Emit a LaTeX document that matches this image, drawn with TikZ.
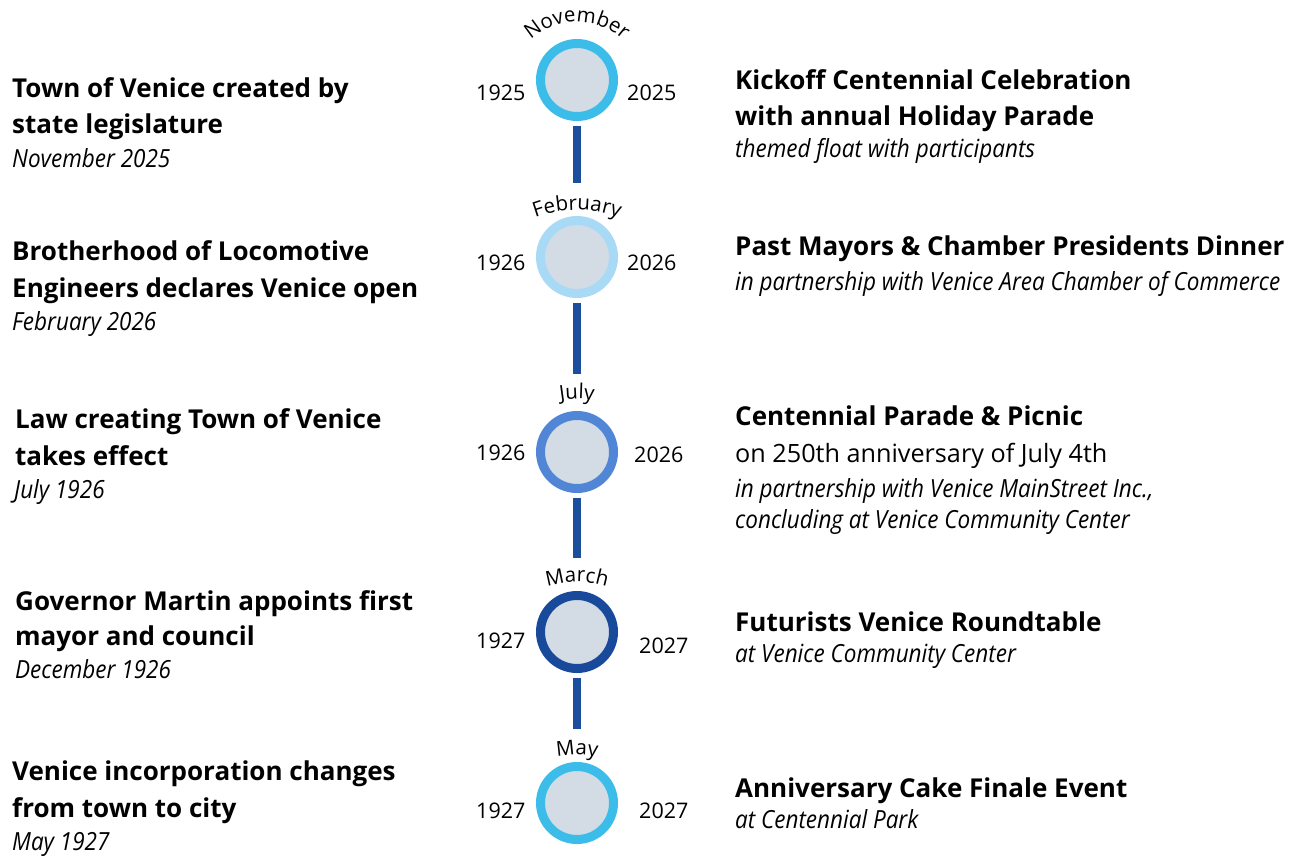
\documentclass[tikz,border=0pt]{standalone}
\usepackage{fontspec}
\setmainfont{Open Sans}
\newfontfamily\condfont{Open Sans}[FakeStretch=0.9]
\usetikzlibrary{decorations.text}

\definecolor{cyanring}{HTML}{3BBCE9}
\definecolor{paleblue}{HTML}{A9DAF5}
\definecolor{midblue}{HTML}{5086D5}
\definecolor{deepblue}{HTML}{18499A}
\definecolor{stemblue}{HTML}{1C4E9E}
\definecolor{dotfill}{HTML}{D3DCE4}

\tikzset{
  head/.style={anchor=base west, inner sep=0pt, font=\bfseries\fontsize{26}{32}\selectfont},
  note/.style={anchor=base west, inner sep=0pt, font=\condfont\itshape\fontsize{25}{30}\selectfont},
  plain/.style={anchor=base west, inner sep=0pt, font=\fontsize{25.2}{30}\selectfont},
  yr/.style={anchor=base west, inner sep=0pt, font=\fontsize{21.5}{24}\selectfont},
  ring/.style={circle, minimum size=73pt, inner sep=0pt, line width=9pt, draw=#1, fill=dotfill},
  stem/.style={line width=8pt, draw=stemblue, shorten <=4.5pt, shorten >=33pt},
  montharc/.style={decorate, decoration={text along path, text align=center, text={|\fontsize{20.5}{22}\selectfont|#1}}}
}

\begin{document}
\begin{tikzpicture}[x=1pt,y=1pt]
\useasboundingbox (0,0) rectangle (1289,-856);

% dots on the timeline
\foreach \n/\y/\c in {1/80/cyanring,2/257/paleblue,3/452/midblue,4/632/deepblue,5/803/cyanring}
\node[ring=\c] (c\n) at (577,-\y) {};
\draw[stem] (c1) -- (c2);
\draw[stem, shorten >=37pt] (c2) -- (c3);
\draw[stem] (c3) -- (c4);
\draw[stem] (c4) -- (c5);

% months round the dots
\path[montharc=November] (577,-90) ++(150:68) arc (150:30:68);
\path[montharc=February] (577,-330) ++(120:120) arc (120:60:120);
\path[montharc=July] (577,-499) ++(120:100) arc (120:60:100);
\path[montharc=March] (577,-682) ++(120:100) arc (120:60:100);
\path[montharc=May] (577,-855) ++(120:100) arc (120:60:100);

% years
\node[yr] (y1a) at (476,-101) {1925};
\node[yr] (y1b) at (627,-101) {2025};
\node[yr] (y2a) at (476,-270) {1926};
\node[yr] (y2b) at (627,-270) {2026};
\node[yr] (y3a) at (476,-460) {1926};
\node[yr] (y3b) at (634,-462) {2026};
\node[yr] (y4a) at (476,-648) {1927};
\node[yr] (y4b) at (639,-653) {2027};
\node[yr] (y5a) at (476,-818) {1927};
\node[yr] (y5b) at (639,-818) {2027};

% left: history
\node[head] (l1a) at (12,-98) {Town of Venice created by};
\node[head] (l1b) at (12,-133) {state legislature};
\node[note] (l1c) at (12,-167) {November 2025};
\node[head] (l2a) at (12,-260) {Brotherhood of Locomotive};
\node[head] (l2b) at (12,-297) {Engineers declares Venice open};
\node[note] (l2c) at (12,-330) {February 2026};
\node[head] (l3a) at (15,-428) {Law creating Town of Venice};
\node[head] (l3b) at (15,-465) {takes effect};
\node[note] (l3c) at (14,-498) {July 1926};
\node[head] (l4a) at (15,-610) {Governor Martin appoints first};
\node[head] (l4b) at (15,-645) {mayor and council};
\node[note] (l4c) at (15,-678) {December 1926};
\node[head] (l5a) at (12,-780) {Venice incorporation changes};
\node[head] (l5b) at (12,-817) {from town to city};
\node[note] (l5c) at (12,-850) {May 1927};

% right: centennial events
\node[head] (r1a) at (735,-90) {Kickoff Centennial Celebration};
\node[head] (r1b) at (735,-125) {with annual Holiday Parade};
\node[note] (r1c) at (735,-157) {themed float with participants};
\node[head] (r2a) at (735,-255) {Past Mayors \& Chamber Presidents Dinner};
\node[note] (r2b) at (735,-290) {in partnership with Venice Area Chamber of Commerce};
\node[head] (r3a) at (735,-425) {Centennial Parade \& Picnic};
\node[plain] (r3b) at (735,-462) {on 250th anniversary of July 4th};
\node[note] (r3c) at (735,-497) {in partnership with Venice MainStreet Inc.,};
\node[note] (r3d) at (735,-528) {concluding at Venice Community Center};
\node[head] (r4a) at (735,-631) {Futurists Venice Roundtable};
\node[note] (r4b) at (735,-662) {at Venice Community Center};
\node[head] (r5a) at (735,-797) {Anniversary Cake Finale Event};
\node[note] (r5b) at (735,-828) {at Centennial Park};
\end{tikzpicture}
\end{document}
